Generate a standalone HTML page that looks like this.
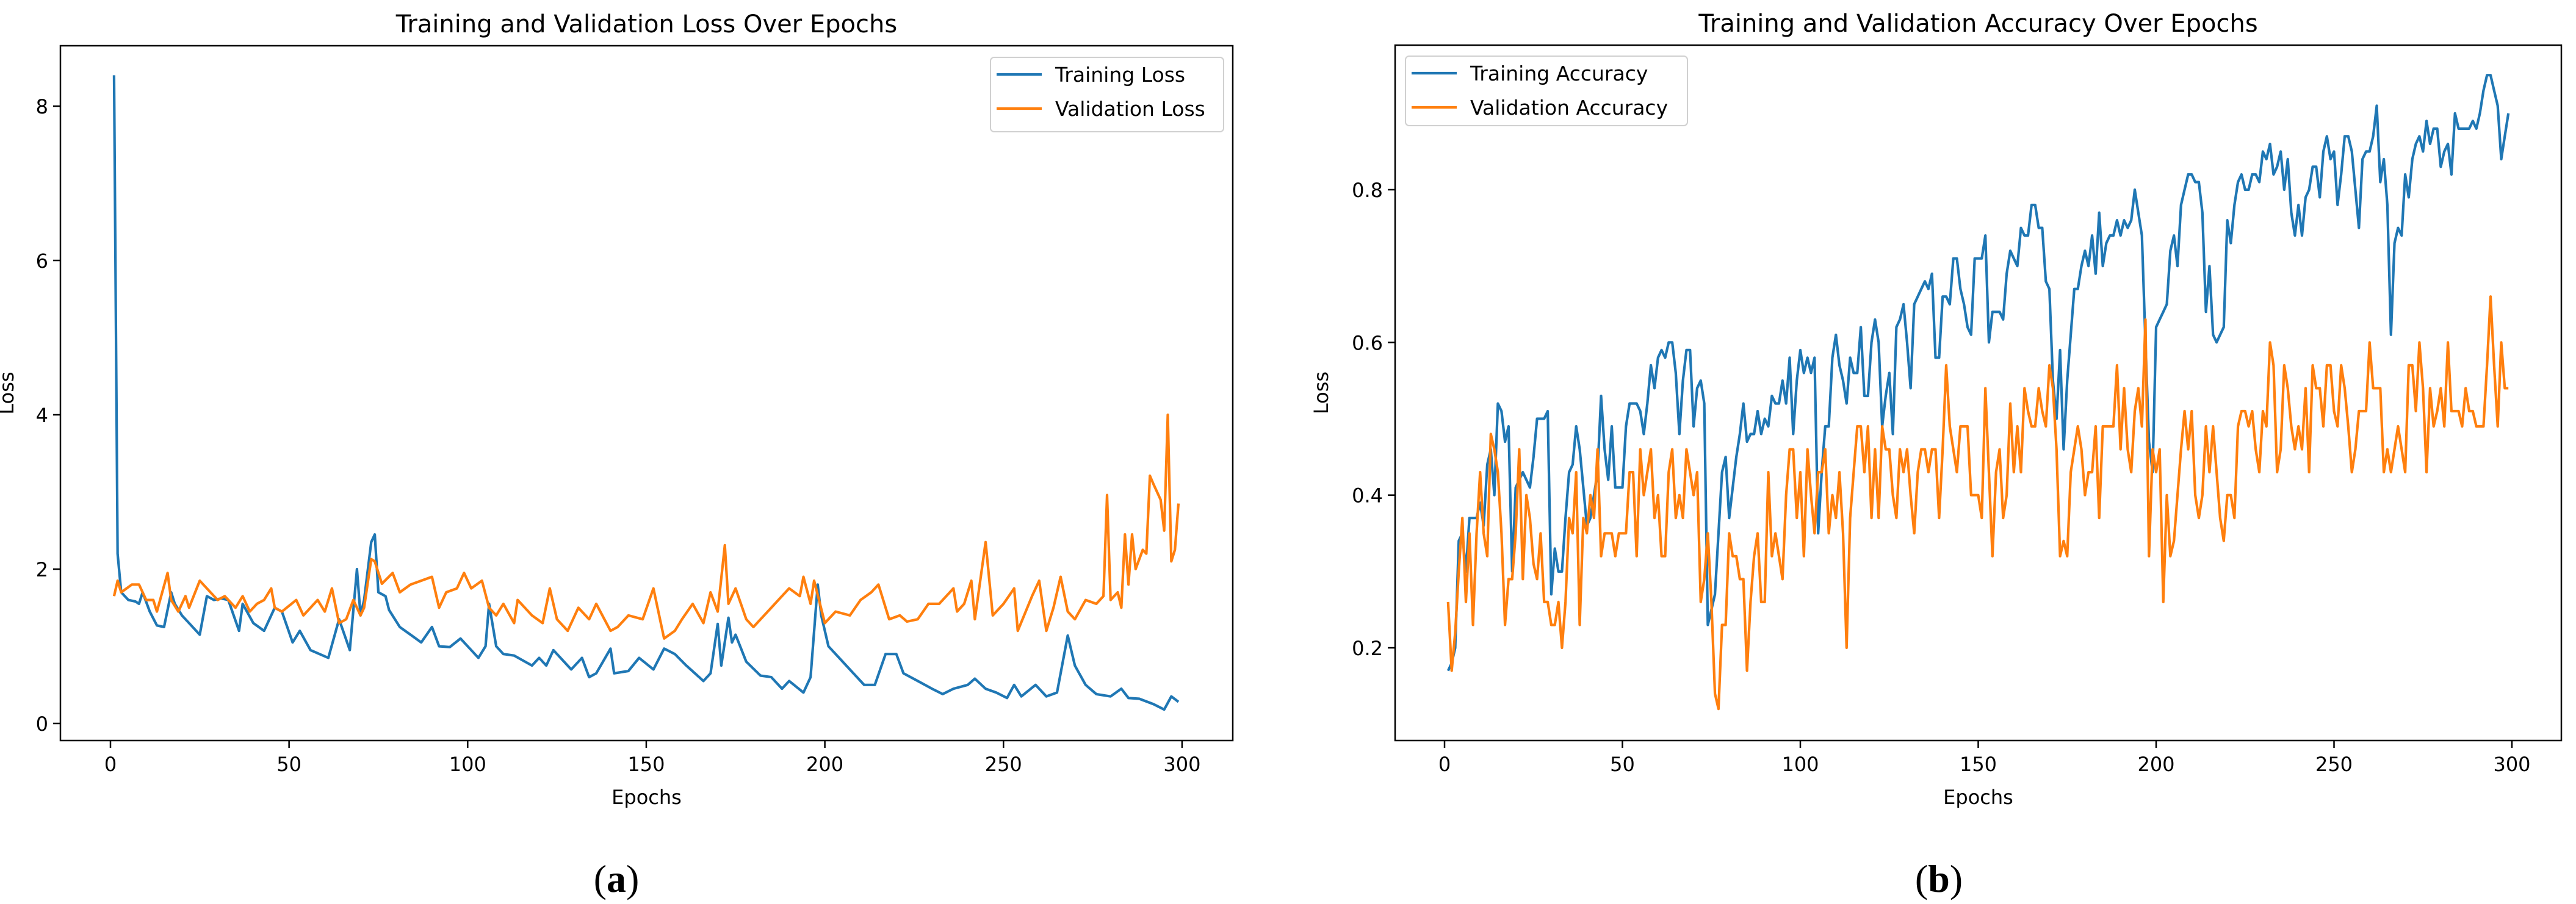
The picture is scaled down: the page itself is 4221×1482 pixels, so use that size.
<!DOCTYPE html>
<html><head><meta charset="utf-8"><style>
html,body{margin:0;padding:0;background:#fff;}
svg{display:block;font-family:"DejaVu Sans","Liberation Sans",sans-serif;}
</style></head><body>
<svg id="fig" width="4221" height="1482" viewBox="0 0 4221 1482" xmlns="http://www.w3.org/2000/svg">
<rect width="4221" height="1482" fill="#fff"/>
<g id="left"></g>
<g id="right"></g>
<text x="1010" y="1462" font-family="Liberation Serif,serif" font-size="64" text-anchor="middle">(<tspan font-weight="bold">a</tspan>)</text>
<text x="3177" y="1462" font-family="Liberation Serif,serif" font-size="64" text-anchor="middle">(<tspan font-weight="bold">b</tspan>)</text>
</svg>
<script>
const xTicks=[0,50,100,150,200,250,300];
const lossTicks=[0,2,4,6,8];
const accTicks=[0.2,0.4,0.6,0.8];
const accTickLabels=["0.2","0.4","0.6","0.8"];

const trainLossEpochs=[1,2,3,5,7,8,9,11,13,15,17,18,20,22,25,27,29,31,33,36,37,40,43,46,48,51,53,56,61,64,67,69,70,71,73,74,75,77,78,81,84,87,90,92,95,98,103,105,106,108,110,113,118,120,122,124,127,129,132,134,136,140,141,145,148,152,155,158,161,166,168,170,171,173,174,175,178,182,185,188,190,194,196,198,199,201,203,208,211,214,217,220,222,226,230,233,236,240,242,245,248,251,253,255,259,262,265,268,270,273,276,280,283,285,288,292,295,297,299];
const trainLoss=[8.4,2.2,1.7,1.6,1.58,1.55,1.7,1.45,1.27,1.25,1.7,1.55,1.4,1.3,1.15,1.65,1.6,1.62,1.6,1.2,1.55,1.3,1.2,1.5,1.45,1.05,1.2,0.95,0.85,1.35,0.95,2.0,1.4,1.6,2.35,2.45,1.7,1.65,1.47,1.25,1.15,1.05,1.25,1.0,0.99,1.1,0.85,1.0,1.55,1.0,0.9,0.88,0.75,0.85,0.75,0.95,0.8,0.7,0.85,0.6,0.65,0.97,0.65,0.68,0.85,0.7,0.97,0.9,0.76,0.55,0.65,1.29,0.75,1.37,1.05,1.15,0.8,0.62,0.6,0.45,0.55,0.4,0.6,1.8,1.4,1.0,0.9,0.65,0.5,0.5,0.9,0.9,0.65,0.55,0.45,0.38,0.45,0.5,0.58,0.45,0.4,0.33,0.5,0.35,0.5,0.35,0.4,1.14,0.75,0.5,0.38,0.35,0.45,0.33,0.32,0.25,0.18,0.35,0.28];

const valLossEpochs=[1,2,3,6,8,10,12,13,16,17,19,21,22,25,28,30,32,35,37,39,41,43,45,46,48,52,54,58,60,62,64,66,68,70,71,73,74,76,79,81,84,87,90,92,94,97,99,101,104,106,108,110,113,114,118,121,123,125,128,131,134,136,140,142,145,149,152,155,158,160,163,166,168,170,172,173,175,178,180,184,187,190,193,194,196,197,200,203,207,210,213,215,218,221,223,226,229,232,236,237,239,241,242,245,247,250,253,254,258,260,262,264,266,268,270,273,276,278,279,280,282,283,284,285,286,287,289,290,291,292,294,295,296,297,298,299];
const valLoss=[1.65,1.85,1.7,1.8,1.8,1.6,1.6,1.45,1.95,1.6,1.45,1.65,1.5,1.85,1.7,1.6,1.65,1.5,1.65,1.45,1.55,1.6,1.75,1.5,1.45,1.6,1.4,1.6,1.45,1.75,1.3,1.35,1.6,1.4,1.5,2.13,2.1,1.81,1.95,1.7,1.8,1.85,1.9,1.5,1.7,1.75,1.95,1.75,1.85,1.5,1.4,1.55,1.3,1.6,1.4,1.3,1.75,1.35,1.2,1.5,1.35,1.55,1.2,1.25,1.4,1.35,1.75,1.1,1.2,1.35,1.55,1.3,1.7,1.45,2.31,1.55,1.75,1.35,1.25,1.45,1.6,1.75,1.65,1.9,1.55,1.85,1.3,1.45,1.4,1.6,1.7,1.8,1.35,1.4,1.32,1.35,1.55,1.55,1.75,1.45,1.55,1.85,1.35,2.35,1.4,1.55,1.75,1.2,1.65,1.85,1.2,1.5,1.9,1.45,1.35,1.6,1.55,1.65,2.96,1.6,1.7,1.5,2.45,1.8,2.45,2.0,2.25,2.2,3.21,3.1,2.9,2.5,4.0,2.1,2.25,2.85];

const trainAcc=[0.17,0.18,0.2,0.34,0.35,0.30,0.37,0.37,0.37,0.39,0.36,0.44,0.46,0.40,0.52,0.51,0.47,0.49,0.30,0.41,0.42,0.43,0.42,0.41,0.45,0.50,0.50,0.50,0.51,0.27,0.33,0.30,0.30,0.37,0.43,0.44,0.49,0.46,0.41,0.36,0.37,0.40,0.43,0.53,0.46,0.42,0.49,0.41,0.41,0.41,0.49,0.52,0.52,0.52,0.51,0.48,0.52,0.57,0.54,0.58,0.59,0.58,0.60,0.60,0.56,0.48,0.55,0.59,0.59,0.49,0.54,0.55,0.52,0.23,0.25,0.27,0.35,0.43,0.45,0.37,0.41,0.45,0.48,0.52,0.47,0.48,0.48,0.51,0.48,0.50,0.49,0.53,0.52,0.52,0.55,0.52,0.58,0.48,0.55,0.59,0.56,0.58,0.56,0.58,0.35,0.43,0.49,0.49,0.58,0.61,0.57,0.55,0.52,0.58,0.56,0.56,0.62,0.53,0.53,0.60,0.63,0.60,0.49,0.53,0.56,0.48,0.62,0.63,0.65,0.60,0.54,0.65,0.66,0.67,0.68,0.67,0.69,0.58,0.58,0.66,0.66,0.65,0.71,0.71,0.67,0.65,0.62,0.61,0.71,0.71,0.71,0.74,0.60,0.64,0.64,0.64,0.63,0.69,0.72,0.71,0.70,0.75,0.74,0.74,0.78,0.78,0.75,0.75,0.68,0.67,0.55,0.50,0.59,0.46,0.55,0.61,0.67,0.67,0.70,0.72,0.70,0.74,0.69,0.77,0.70,0.73,0.74,0.74,0.76,0.74,0.76,0.75,0.76,0.80,0.77,0.74,0.60,0.47,0.43,0.62,0.63,0.64,0.65,0.72,0.74,0.70,0.78,0.80,0.82,0.82,0.81,0.81,0.77,0.64,0.70,0.61,0.60,0.61,0.62,0.76,0.73,0.78,0.81,0.82,0.80,0.80,0.82,0.82,0.81,0.85,0.84,0.86,0.82,0.83,0.85,0.80,0.84,0.77,0.74,0.78,0.74,0.79,0.80,0.83,0.83,0.79,0.85,0.87,0.84,0.85,0.78,0.82,0.87,0.87,0.85,0.80,0.75,0.84,0.85,0.85,0.87,0.91,0.81,0.84,0.78,0.61,0.73,0.75,0.74,0.82,0.79,0.84,0.86,0.87,0.85,0.89,0.86,0.88,0.88,0.83,0.85,0.86,0.82,0.90,0.88,0.88,0.88,0.88,0.89,0.88,0.90,0.93,0.95,0.95,0.93,0.91,0.84,0.87,0.90];

const valAcc=[0.26,0.17,0.22,0.30,0.37,0.26,0.35,0.23,0.35,0.43,0.35,0.32,0.48,0.46,0.43,0.35,0.23,0.29,0.29,0.35,0.46,0.29,0.40,0.37,0.31,0.29,0.35,0.26,0.26,0.23,0.23,0.26,0.20,0.26,0.37,0.35,0.43,0.23,0.37,0.35,0.40,0.37,0.46,0.32,0.35,0.35,0.35,0.32,0.35,0.35,0.35,0.43,0.43,0.32,0.46,0.40,0.43,0.46,0.37,0.40,0.32,0.32,0.43,0.46,0.37,0.40,0.37,0.46,0.43,0.40,0.43,0.26,0.29,0.35,0.26,0.14,0.12,0.23,0.23,0.35,0.32,0.32,0.29,0.29,0.17,0.26,0.32,0.35,0.26,0.26,0.43,0.32,0.35,0.32,0.29,0.40,0.46,0.46,0.37,0.43,0.32,0.46,0.40,0.35,0.43,0.43,0.46,0.35,0.40,0.37,0.43,0.35,0.20,0.37,0.43,0.49,0.49,0.43,0.49,0.37,0.46,0.37,0.49,0.46,0.46,0.40,0.37,0.46,0.43,0.46,0.40,0.35,0.43,0.46,0.46,0.43,0.46,0.46,0.37,0.46,0.57,0.49,0.46,0.43,0.49,0.49,0.49,0.40,0.40,0.40,0.37,0.54,0.43,0.32,0.43,0.46,0.37,0.40,0.52,0.43,0.49,0.43,0.54,0.51,0.49,0.49,0.54,0.51,0.49,0.57,0.54,0.46,0.32,0.34,0.32,0.43,0.46,0.49,0.46,0.40,0.43,0.43,0.49,0.37,0.49,0.49,0.49,0.49,0.57,0.46,0.54,0.46,0.43,0.51,0.54,0.49,0.63,0.32,0.46,0.43,0.46,0.26,0.40,0.32,0.34,0.40,0.46,0.51,0.46,0.51,0.40,0.37,0.40,0.49,0.43,0.49,0.43,0.37,0.34,0.40,0.40,0.37,0.49,0.51,0.51,0.49,0.51,0.46,0.43,0.51,0.49,0.60,0.57,0.43,0.46,0.57,0.54,0.49,0.46,0.49,0.46,0.54,0.43,0.57,0.54,0.54,0.49,0.57,0.57,0.51,0.49,0.57,0.54,0.49,0.43,0.46,0.51,0.51,0.51,0.60,0.54,0.54,0.54,0.43,0.46,0.43,0.46,0.49,0.46,0.43,0.57,0.57,0.51,0.60,0.54,0.43,0.54,0.49,0.51,0.54,0.49,0.60,0.51,0.51,0.51,0.49,0.54,0.51,0.51,0.49,0.49,0.49,0.57,0.66,0.57,0.49,0.60,0.54,0.54];

const NS="http://www.w3.org/2000/svg";
function mk(parent,tag,attrs){const e=document.createElementNS(NS,tag);for(const k in attrs)e.setAttribute(k,attrs[k]);parent.appendChild(e);return e;}

function drawChart(g,cfg){
  const {x0,x1,y0,y1,xs,ys}=cfg;
  for(let i=0;i<xTicks.length;i++){
    const t=xTicks[i];const x=xs(t);
    const tk=mk(g,'line',{x1:x,x2:x,y1:y1,y2:y1+12,stroke:'#000','stroke-width':2.5});
    
    
    const lb=mk(g,'text',{x:x,y:y1+50,'font-size':32,'text-anchor':'middle',fill:'#000'});
    lb.textContent=String(t);
    
    
  }
  for(let i=0;i<cfg.yTicks.length;i++){
    const y=ys(cfg.yTicks[i]);
    const tk=mk(g,'line',{x1:x0-12,x2:x0,y1:y,y2:y,stroke:'#000','stroke-width':2.5});
    
    
    const lb=mk(g,'text',{x:x0-20,y:y+12,'font-size':32,'text-anchor':'end',fill:'#000'});
    lb.textContent=cfg.yLabels[i];
    
    
  }
  for(const s of cfg.series){
    let d='';
    for(let i=0;i<s.values.length;i++){d+=(i?'L':'M')+xs(s.epochs[i]).toFixed(1)+','+ys(s.values[i]).toFixed(1);}
    const p=mk(g,'path',{d:d,fill:'none',stroke:s.color,'stroke-width':4.2,'stroke-linejoin':'round'});
    
    
  }
  const fr=mk(g,'rect',{x:x0,y:y0,width:x1-x0,height:y1-y0,fill:'none',stroke:'#000','stroke-width':2.5});
  
  
  const tt=mk(g,'text',{x:(x0+x1)/2,y:y0-22,'font-size':40,'text-anchor':'middle',fill:'#000'});
  tt.textContent=cfg.title;
  
  
  const xl=mk(g,'text',{x:(x0+x1)/2,y:y1+104,'font-size':32,'text-anchor':'middle',fill:'#000'});
  xl.textContent='Epochs';
  
  
  const yl=mk(g,'text',{x:0,y:0,'font-size':32,'text-anchor':'middle',fill:'#000',transform:`translate(${cfg.ylx},${(y0+y1)/2}) rotate(-90)`});
  yl.textContent='Loss';
  
  
  const L=cfg.legend;
  const lg=mk(g,'g',{});
  
  
  mk(lg,'rect',{x:L.x,y:L.y,width:L.w,height:L.h,rx:6,fill:'#fff','fill-opacity':0.8,stroke:'#d0d0d0','stroke-width':2});
  cfg.series.forEach((s,i)=>{
    const yy=L.y+28+i*56;
    const e=mk(lg,'g',{});
    
    
    mk(e,'line',{x1:L.x+10,x2:L.x+84,y1:yy,y2:yy,stroke:s.color,'stroke-width':4.2});
    const t=mk(e,'text',{x:L.x+106,y:yy+12,'font-size':33,fill:'#000'});
    t.textContent=s.label;
  });
}

const seq=n=>Array.from({length:n},(_,i)=>i+1);

drawChart(document.getElementById('left'),{
  x0:99,x1:2020,y0:75,y1:1214,
  xs:e=>181+5.853*e, ys:v=>1186-126.5*v,
  yTicks:lossTicks, yLabels:lossTicks.map(String),
  title:'Training and Validation Loss Over Epochs', ylx:22,
  legend:{x:1623,y:94,w:382,h:122},
  series:[
    {name:'training-loss-line',label:'Training Loss',color:'#1f77b4',epochs:trainLossEpochs,values:trainLoss},
    {name:'validation-loss-line',label:'Validation Loss',color:'#ff7f0e',epochs:valLossEpochs,values:valLoss}
  ]
});
drawChart(document.getElementById('right'),{
  x0:2286,x1:4197,y0:74,y1:1214,
  xs:e=>2367+5.83*e, ys:v=>311+(0.8-v)*1251.7,
  yTicks:accTicks, yLabels:accTickLabels,
  title:'Training and Validation Accuracy Over Epochs', ylx:2176,
  legend:{x:2303,y:92,w:462,h:114},
  series:[
    {name:'training-accuracy-line',label:'Training Accuracy',color:'#1f77b4',epochs:seq(trainAcc.length),values:trainAcc},
    {name:'validation-accuracy-line',label:'Validation Accuracy',color:'#ff7f0e',epochs:seq(valAcc.length),values:valAcc}
  ]
});
</script>
</body></html>
